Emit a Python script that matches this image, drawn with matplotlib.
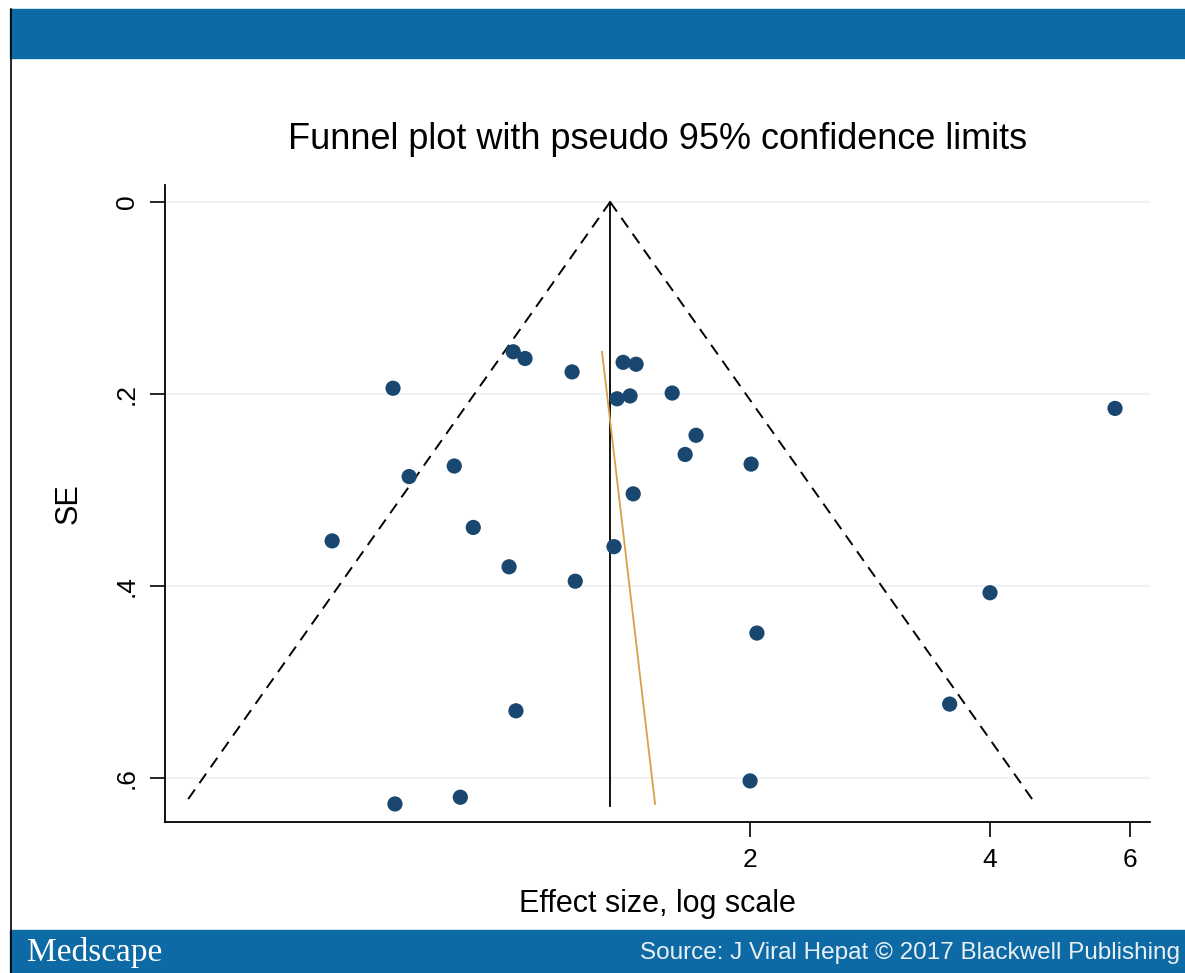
import numpy as np
import matplotlib.pyplot as plt
from matplotlib.lines import Line2D
from matplotlib.patches import Rectangle

plt.rcParams['font.family'] = ['Liberation Sans', 'DejaVu Sans']

# study estimates (effect size, standard error)
effect = [1.009, 1.044, 1.196, 1.386, 1.439, 0.713, 1.362, 1.414, 1.597, 5.74,
          1.711, 1.658, 2.006, 0.851, 0.747, 1.427, 0.899, 0.598, 1.350, 0.997,
          1.207, 4.00, 2.04, 1.017, 3.56, 2.00, 0.866, 0.717]
se = [0.156, 0.163, 0.177, 0.167, 0.169, 0.194, 0.205, 0.202, 0.199, 0.215,
      0.243, 0.263, 0.273, 0.275, 0.286, 0.304, 0.339, 0.353, 0.359, 0.380,
      0.395, 0.407, 0.449, 0.530, 0.523, 0.603, 0.620, 0.627]

pooled = 1.335
se_max = 0.627

# egger regression line endpoints
egger_es = [1.304, 1.520]
egger_se = [0.156, 0.627]

xticks = [2, 4, 6]
yticks = [0, 0.2, 0.4, 0.6]
ytick_labels = ['0', '.2', '.4', '.6']

fig = plt.figure(figsize=(11.85, 9.73), dpi=100)

band = '#0d6aa4'
fig.add_artist(Rectangle((10 / 1185, 1 - 58 / 973), 1, 49 / 973, transform=fig.transFigure,
                         color=band, zorder=0))
fig.add_artist(Rectangle((10 / 1185, 0), 1, 43 / 973, transform=fig.transFigure,
                         color=band, zorder=0))
fig.add_artist(Line2D([10.5 / 1185, 10.5 / 1185], [0, 1 - 9 / 973], transform=fig.transFigure,
                      color='black', lw=1.2))
fig.text(27 / 1185, 1 - 953 / 973, 'Medscape', color='white', fontsize=24,
         family='Liberation Serif', va='center', ha='left')
fig.text(640 / 1185, 1 - 953 / 973, 'Source: J Viral Hepat \u00a9 2017 Blackwell Publishing',
         color='#e8f0f6', fontsize=17.5, va='center', ha='left')

ax = fig.add_axes([165 / 1185, 1 - 822 / 973, 985 / 1185, 637 / 973])
ax.set_xscale('log')
ax.set_xlim(0.369, 6.35)
ax.set_ylim(0.6458, -0.0177)

# pseudo 95% limits
s = np.array([0, se_max])
ax.plot(pooled * np.exp(-1.96 * s), s, color='black', ls=(0, (6, 4)), lw=1.4)
ax.plot(pooled * np.exp(1.96 * s), s, color='black', ls=(0, (6, 4)), lw=1.4)
ax.plot([pooled, pooled], [0, se_max + 0.002], color='black', lw=1.3)
ax.plot(egger_es, egger_se, color='#d9a04a', lw=1.3)

ax.scatter(effect, se, s=120, color='#1a476f', zorder=3, edgecolors='none')

ax.set_xticks(xticks)
ax.set_xticklabels([str(t) for t in xticks])
ax.xaxis.set_minor_locator(plt.NullLocator())
ax.set_yticks(yticks)
ax.set_yticklabels(ytick_labels, rotation=90, va='center')
ax.tick_params(axis='both', length=11, width=1.2, labelsize=19, pad=8)
ax.grid(axis='y', color='#eaf0f2', lw=1.2)
ax.set_axisbelow(True)
for side in ['top', 'right']:
    ax.spines[side].set_visible(False)
for side in ['left', 'bottom']:
    ax.spines[side].set_linewidth(1.3)

ax.set_xlabel('Effect size, log scale', fontsize=22, labelpad=12)
ax.set_ylabel('SE', fontsize=22, labelpad=22)
ax.set_title('Funnel plot with pseudo 95% confidence limits', fontsize=26, pad=26)

fig.savefig('out.png', dpi=100)
